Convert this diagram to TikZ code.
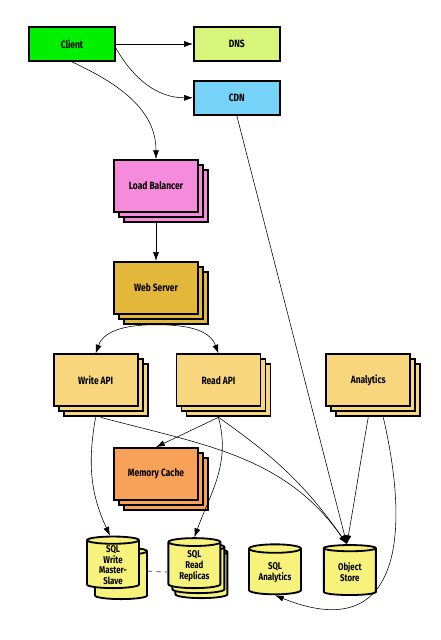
\documentclass[tikz,border=0pt]{standalone}
\usepackage{fontspec}
\setsansfont{Fira Sans}[FakeStretch=0.8]
\usetikzlibrary{shapes.geometric,arrows.meta,positioning,shadows}
\definecolor{vertclient}{HTML}{00F000}
\definecolor{vertdns}{HTML}{D6F57A}
\definecolor{bleucdn}{HTML}{76D2F6}
\definecolor{roselb}{HTML}{F68ADB}
\definecolor{orweb}{HTML}{E3B83A}
\definecolor{jauneapi}{HTML}{F8D67E}
\definecolor{orangecache}{HTML}{F8A158}
\definecolor{jaunedb}{HTML}{F7F27C}

\begin{document}
\begin{tikzpicture}[
    font=\sffamily\bfseries\fontsize{7.5}{8.5}\selectfont,
    boite/.style={rectangle, draw=black, line width=1.3pt, fill=#1,
      minimum width=2.15cm, minimum height=0.85cm, align=center},
    pile/.style={rectangle, draw=black, line width=1.3pt, fill=#1,
      minimum width=2.1cm, minimum height=1.3cm, align=center,
      copy shadow={shadow xshift=0.25cm, shadow yshift=-0.25cm, fill=#1, draw=black, line width=1.3pt},
      copy shadow={shadow xshift=0.125cm, shadow yshift=-0.125cm, fill=#1, draw=black, line width=1.3pt}},
    base/.style={cylinder, shape border rotate=90, aspect=0.25, draw=black,
      line width=1.3pt, fill=jaunedb, minimum width=1.3cm, minimum height=1.25cm,
      inner sep=0.5pt, align=center, font=\sffamily\bfseries\fontsize{7}{7.6}\selectfont},
    fleche/.style={-{Latex[length=2.2mm,width=1.5mm]}, thin}
  ]
    \useasboundingbox (0,0) rectangle (11,-16);
    % clients and edge
    \node[boite=vertclient] (client) at (1.8,-1.1) {Client};
    \node[boite=vertdns, right=1.925cm of client] (dns) {DNS};
    \node[boite=bleucdn, below=0.45cm of dns] (cdn) {CDN};
    % web tier
    \node[pile=roselb] (lb) at (3.9,-4.65) {Load Balancer};
    \node[pile=orweb, below=1.2cm of lb] (web) {Web Server};
    \node[pile=jauneapi] (writeapi) at (2.39,-9.51) {Write API};
    \node[pile=jauneapi, right=0.925cm of writeapi] (readapi) {Read API};
    \node[pile=jauneapi, right=1.6cm of readapi] (analytics) {Analytics};
    \node[pile=orangecache] (cache) at (3.9,-11.85) {Memory Cache};
    % storage
    \node[base, copy shadow={shadow xshift=0.2cm, shadow yshift=-0.275cm, fill=jaunedb, draw=black, line width=1.3pt}]
      (sqlwrite) at (2.825,-14.125) {SQL\\Write\\Master-\\Slave};
    \node[base,
      copy shadow={shadow xshift=0.175cm, shadow yshift=-0.25cm, fill=jaunedb, draw=black, line width=1.3pt},
      copy shadow={shadow xshift=0.1cm, shadow yshift=-0.125cm, fill=jaunedb, draw=black, line width=1.3pt}]
      (sqlread) at (4.86,-14.15) {SQL\\Read\\Replicas};
    \node[base] (sqlana) at (6.875,-14.31) {SQL\\Analytics};
    \node[base, right=0.525cm of sqlana] (objstore) {Object\\Store};
    \draw[dashed, gray, thick, shorten <=0.2cm] ([yshift=-0.15cm]sqlwrite.east) -- ([yshift=-0.15cm]sqlread.west);
    % connectors
    \draw[fleche] (client) -- (dns);
    \draw[fleche] ([yshift=-3pt]client.east) to[out=-60, in=180] (cdn.west);
    \draw[fleche] (client.south) to[out=-25, in=90] (lb.north);
    \draw[fleche] (cdn.south) -- ([xshift=-0.075cm]objstore.north);
    \draw[fleche] ([yshift=-0.25cm]lb.south) -- (web.north);
    \draw[fleche] ([yshift=-0.25cm]web.south) to[out=180, in=70] (writeapi.north);
    \draw[fleche] ([yshift=-0.25cm]web.south) to[out=0, in=110] (readapi.north);
    \draw[fleche] ([yshift=-0.25cm]writeapi.south) to[out=-100, in=115] ([xshift=-0.075cm]sqlwrite.north);
    \draw[fleche] ([xshift=0.125cm, yshift=-0.25cm]writeapi.south) to[out=-15, in=125] ([xshift=-0.075cm]objstore.north);
    \draw[fleche] ([yshift=-0.25cm]readapi.south) -- (cache.north);
    \draw[fleche] ([yshift=-0.25cm]readapi.south) to[out=-75, in=70] (sqlread.north);
    \draw[fleche] ([yshift=-0.25cm]readapi.south) to[out=-35, in=125] ([xshift=-0.075cm]objstore.north);
    \draw[fleche] ([yshift=-0.25cm]analytics.south) to[out=-100, in=80] ([xshift=-0.075cm]objstore.north);
    \draw[fleche] ([xshift=0.375cm, yshift=-0.25cm]analytics.south) to[out=-77, in=-22, looseness=1.6] (sqlana.south);
  \end{tikzpicture}
\end{document}
